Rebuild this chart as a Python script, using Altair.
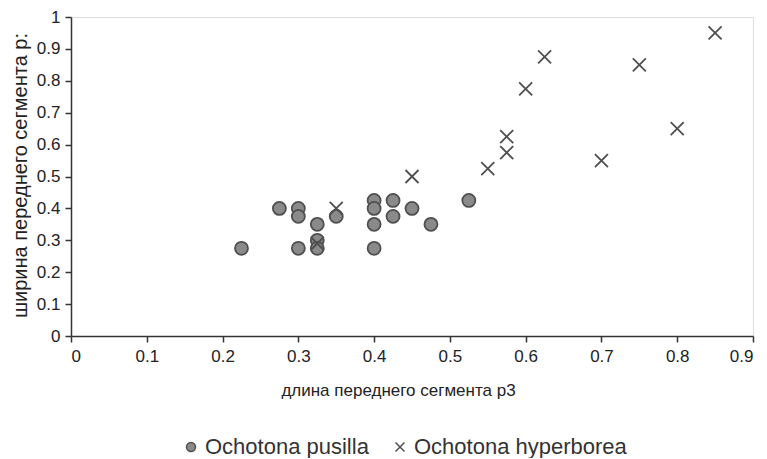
import altair as alt
import pandas as pd

pusilla_x = [0.225, 0.275, 0.3, 0.3, 0.3, 0.325, 0.325, 0.325, 0.35, 0.4, 0.4, 0.4, 0.4, 0.425, 0.425, 0.45, 0.475, 0.525]
pusilla_y = [0.275, 0.4, 0.4, 0.375, 0.275, 0.35, 0.3, 0.275, 0.375, 0.425, 0.4, 0.35, 0.275, 0.425, 0.375, 0.4, 0.35, 0.425]

hyper_x = [0.325, 0.35, 0.45, 0.55, 0.575, 0.575, 0.6, 0.625, 0.7, 0.75, 0.8, 0.85]
hyper_y = [0.29, 0.4, 0.5, 0.525, 0.575, 0.625, 0.775, 0.875, 0.55, 0.85, 0.65, 0.95]

species = ["Ochotona pusilla", "Ochotona hyperborea"]
x_ticks = [0, 0.1, 0.2, 0.3, 0.4, 0.5, 0.6, 0.7, 0.8, 0.9]
y_ticks = [0, 0.1, 0.2, 0.3, 0.4, 0.5, 0.6, 0.7, 0.8, 0.9, 1]

df = pd.DataFrame(
    {
        "x": pusilla_x + hyper_x,
        "y": pusilla_y + hyper_y,
        "species": [species[0]] * len(pusilla_x) + [species[1]] * len(hyper_x),
    }
)

FONT = "Liberation Sans"
XPATH = "M-1,-1L1,1M-1,1L1,-1"

chart = (
    alt.Chart(df)
    .mark_point(filled=True, size=169, stroke="#4f4f4f", strokeWidth=1.8, opacity=1)
    .encode(
        x=alt.X(
            "x:Q",
            scale=alt.Scale(domain=[0, 0.9], nice=False, zero=False),
            axis=alt.Axis(
                values=x_ticks,
                format="~g",
                title="длина переднего сегмента р3",
                grid=False,
                tickSize=6,
                labelPadding=6,
                labelFontSize=17,
                labelFont=FONT,
                labelColor="#222",
                titleFont=FONT,
                titleFontSize=17,
                titleFontWeight="normal",
                titleColor="#222",
                titleX=327,
                titleY=54,
                titleBaseline="middle",
                titleAlign="center",
                domainColor="#333",
                domainWidth=1.5,
                tickColor="#333",
                tickWidth=1.5,
            ),
        ),
        y=alt.Y(
            "y:Q",
            scale=alt.Scale(domain=[0, 1], nice=False, zero=False),
            axis=alt.Axis(
                values=y_ticks,
                format="~g",
                title="ширина переднего сегмента р:",
                grid=False,
                tickSize=6,
                labelPadding=5,
                labelFontSize=17,
                labelFont=FONT,
                labelColor="#222",
                titleFont=FONT,
                titleFontSize=20,
                titleFontWeight="normal",
                titleColor="#222",
                titleX=-51,
                titleY=158,
                titleAngle=270,
                titleBaseline="middle",
                titleAlign="center",
                domainColor="#333",
                domainWidth=1.5,
                tickColor="#333",
                tickWidth=1.5,
            ),
        ),
        color=alt.Color(
            "species:N",
            scale=alt.Scale(domain=species, range=["#8a8a8a", "#555555"]),
            legend=alt.Legend(
                title=None,
                orient="none",
                direction="horizontal",
                legendX=109,
                legendY=419,
                labelFont=FONT,
                labelFontSize=22,
                labelColor="#333",
                labelLimit=500,
                symbolSize=80,
                symbolStrokeColor="#4f4f4f",
                symbolStrokeWidth=1.5,
                labelOffset=3,
                columnPadding=20,
            ),
        ),
        shape=alt.Shape(
            "species:N",
            scale=alt.Scale(domain=species, range=["circle", XPATH]),
        ),
    )
    .properties(
        width=682,
        height=319,
        autosize=alt.AutoSizeParams(type="none"),
        padding={"left": 63, "top": 9, "right": 6, "bottom": 122},
    )
    .configure_view(stroke="#dddddd", strokeWidth=1)
)

chart.save("out.html", embed_options={"renderer": "svg", "actions": False})
